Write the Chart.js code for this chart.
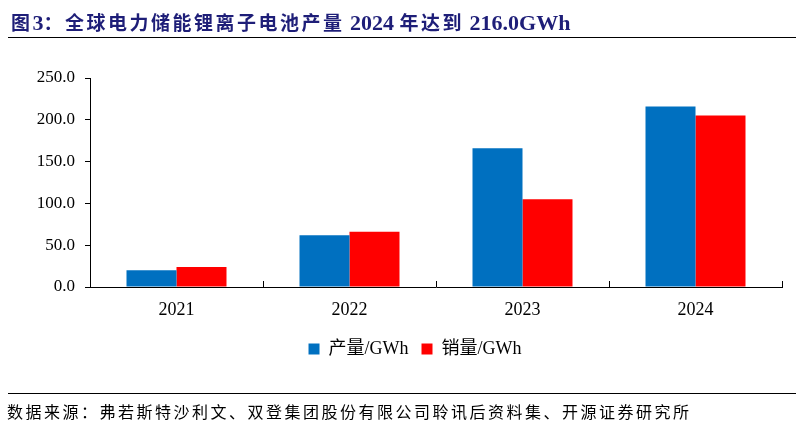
<!DOCTYPE html>
<html>
<head>
<meta charset="utf-8">
<script src="https://cdn.jsdelivr.net/npm/chart.js@4"></script>
<style>
  body { margin: 0; background: #fff; }
  #wrap { position: relative; width: 804px; height: 426px; overflow: hidden; }
  #titulo {
    position: absolute; left: 11px; top: 7px;
    font: bold 22px "Liberation Serif", "Noto Sans CJK SC", serif;
    color: #1e1e78; white-space: nowrap; line-height: 30px;
  }
  #titulo .c { font-size: 19px; letter-spacing: 2.5px; font-family: "Noto Sans CJK SC", sans-serif; }
  #linha1 { position: absolute; left: 8px; right: 8px; top: 37px; border-top: 1px solid #000; }
  #linha2 { position: absolute; left: 8px; right: 8px; top: 393px; border-top: 1px solid #000; }
  #fonte {
    position: absolute; left: 7px; top: 399px;
    font: 16px "Noto Sans CJK SC", sans-serif; letter-spacing: 2.5px;
    color: #000; white-space: nowrap;
  }
  canvas { position: absolute; left: 0; top: 0; }
</style>
</head>
<body>
<div id="wrap">
  <canvas id="grafico" width="804" height="426"></canvas>
  <div id="titulo"><span class="c">图</span>3<span class="c">：全球电力储能锂离子电池产量</span> 2024 <span class="c">年达到</span> 216.0GWh</div>
  <div id="linha1"></div>
  <div id="linha2"></div>
  <div id="fonte">数据来源：弗若斯特沙利文、双登集团股份有限公司聆讯后资料集、开源证券研究所</div>
</div>
<script>
// dados
const anos = ['2021', '2022', '2023', '2024'];
const producao = [20, 62, 166, 216];
const vendas = [24, 66, 105, 205];
const rotulosY = ['0.0', '50.0', '100.0', '150.0', '200.0', '250.0'];

const fonteSerif = '"Liberation Serif", "Noto Sans CJK SC", serif';

// marcas do eixo x voltadas para dentro, nas divisas das categorias
const marcasX = {
  id: 'marcasX',
  afterLayout(chart) {
    // desloca a legenda um pouco para a direita, como no original
    const lg = chart.legend;
    if (lg) { lg.left += 24; lg.right += 24; }
  },
  afterDraw(chart) {
    const x = chart.scales.x;
    const ctx = chart.ctx;
    const base = chart.chartArea.bottom;
    ctx.save();
    ctx.strokeStyle = '#000';
    ctx.lineWidth = 1;
    for (let i = 0; i <= anos.length; i++) {
      const px = Math.round(x.getPixelForValue(i - 0.5)) + 0.5;
      ctx.beginPath();
      ctx.moveTo(px, base);
      ctx.lineTo(px, base - 6);
      ctx.stroke();
    }
    ctx.restore();
  }
};

const ctx = document.getElementById('grafico').getContext('2d');
new Chart(ctx, {
  type: 'bar',
  data: {
    labels: anos,
    datasets: [
      { label: '产量/GWh', data: producao, backgroundColor: '#0070C0', borderWidth: 0 },
      { label: '销量/GWh', data: vendas, backgroundColor: '#FF0000', borderWidth: 0 }
    ]
  },
  options: {
    responsive: false,
    animation: false,
    layout: { padding: { top: 78, left: 0, right: 22, bottom: 58 } },
    datasets: { bar: { categoryPercentage: 0.578, barPercentage: 1.0 } },
    scales: {
      x: {
        offset: true,
        grid: { display: false },
        border: { display: true, color: '#000', width: 1 },
        ticks: { color: '#000', font: { family: fonteSerif, size: 18 }, padding: 4 },
        afterFit(scale) { scale.height = 40; }
      },
      y: {
        min: 0, max: 250,
        ticks: {
          stepSize: 50,
          color: '#000',
          font: { family: fonteSerif, size: 17 },
          padding: 10,
          callback: (v, i) => rotulosY[i]
        },
        grid: { drawOnChartArea: false, drawTicks: true, tickLength: 5, color: '#000' },
        border: { display: true, color: '#000', width: 1 },
        afterFit(scale) { scale.width = 90; }
      }
    },
    plugins: {
      legend: {
        position: 'bottom',
        labels: {
          boxWidth: 11, boxHeight: 11, padding: 13,
          color: '#000',
          font: { family: fonteSerif, size: 18 }
        }
      },
      tooltip: { enabled: false }
    }
  },
  plugins: [marcasX]
});
</script>
</body>
</html>
